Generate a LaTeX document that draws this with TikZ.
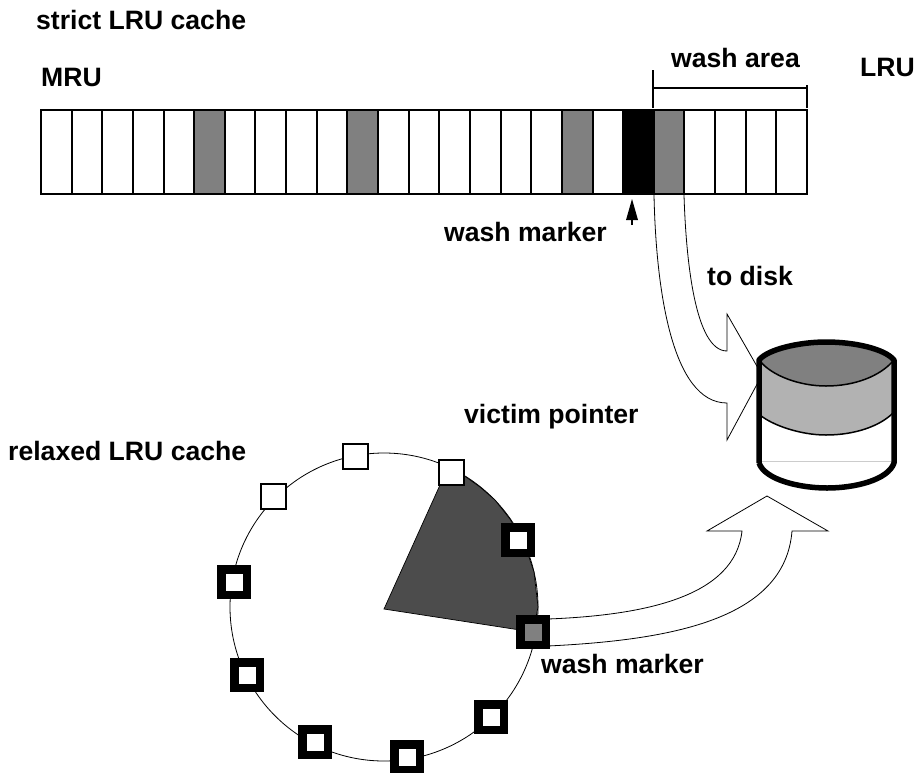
\documentclass[tikz,border=0pt]{standalone}
\usepackage{fontspec}
\setmainfont{Liberation Sans}
\definecolor{midgray}{gray}{0.5}
\definecolor{lightband}{gray}{0.7}
\definecolor{darkwedge}{gray}{0.3}
\tikzset{
  label/.style={font=\fontsize{26.6}{28}\selectfont\bfseries,inner sep=0pt,anchor=base west,text=black},
  cell/.style={draw=black,line width=2pt,fill=white},
  thin outline/.style={draw=black,line width=0.8pt,fill=white},
  lightsq/.style={draw=black,line width=2pt,fill=white,minimum size=25pt,inner sep=0pt},
  heavysq/.style={draw=black,line width=8.5pt,fill=white,minimum size=25.5pt,inner sep=0pt},
  diskline/.style={draw=black,line width=5.5pt,line join=round},
  diskinner/.style={draw=black,line width=1.5pt}
}
\begin{document}
\begin{tikzpicture}[x=1pt,y=-1pt]
\useasboundingbox (0,0) rectangle (924,772);
% cells
\foreach \i in {0,...,24}{
  \pgfmathsetmacro{\xa}{41+\i*30.64}
  \pgfmathsetmacro{\xb}{41+(\i+1)*30.64}
  \def\c{white}
  \ifnum\i=5 \def\c{midgray}\fi
  \ifnum\i=10 \def\c{midgray}\fi
  \ifnum\i=17 \def\c{midgray}\fi
  \ifnum\i=19 \def\c{black}\fi
  \ifnum\i=20 \def\c{midgray}\fi
  \draw[cell,fill=\c] (\xa,110) rectangle (\xb,194);
}
% wash area bracket
\draw[line width=2.5pt] (653,70) -- (653,108);
\draw[line width=2.5pt] (653,88) -- (807,88);
\draw[line width=2.5pt] (807,85) -- (807,108);
% wash marker arrow
\coordinate (mtip) at (632,199);
\coordinate (mbase) at (632,225);
\draw[line width=1.5pt] (mbase) -- (632,215);
\fill (mtip) -- (638,220) -- (626,220) -- cycle;
% arrow to disk
\path[thin outline] (654,195) .. controls (656,290) and (672,403) .. (727,403)
  -- (727,440) -- (762,375) -- (727,314) -- (727,351)
  .. controls (695,351) and (686,260) .. (684,195);
% disk
\fill[white] (759,360) -- (759,463) .. controls (765,480) and (800,488) .. (827,488)
  .. controls (855,488) and (888,480) .. (894,463) -- (894,360) -- cycle;
\fill[lightband] (760,361) -- (760,415) .. controls (772,425) and (800,435) .. (826,435)
  .. controls (855,435) and (880,426) .. (893,413) -- (893,361) -- cycle;
\draw[diskinner] (760,415) .. controls (772,425) and (800,435) .. (826,435)
  .. controls (855,435) and (880,426) .. (893,413);
\path[fill=midgray,diskinner] (760,361) .. controls (772,376) and (800,386) .. (826,386)
  .. controls (855,386) and (880,376) .. (893,361)
  .. controls (885,350) and (855,342) .. (826,342)
  .. controls (800,342) and (770,348) .. (760,361) -- cycle;
\draw[gray!40,line width=0.7pt] (760,461) -- (893,461);
\draw[diskline] (759,463) -- (759,360) .. controls (768,349) and (800,342) .. (826,342)
  .. controls (855,342) and (885,349) .. (894,360) -- (894,463)
  .. controls (888,480) and (855,488) .. (827,488)
  .. controls (800,488) and (765,480) .. (759,463);
% ring
\coordinate (hub) at (384,609);
\draw[line width=0.8pt] (384,607) circle (154);
% up arrow
\path[thin outline] (548,619) .. controls (650,615) and (735,595) .. (742,531)
  -- (707,531) -- (767,496) -- (828,531) -- (792,531)
  .. controls (785,620) and (670,640) .. (548,646);
% wedge
\path[fill=darkwedge,draw=black,line width=0.7pt] (hub) -- (440,485) -- (451,472)
  -- (466,477) -- (480,487) -- (495,500) -- (510,519) -- (525,545) -- (534,572)
  -- (538,607) -- (533,632) -- cycle;
% ring slots
\node[lightsq] (s1) at (355,456) {};
\node[lightsq] (s2) at (273,496) {};
\node[lightsq] (s3) at (451,472) {};
\node[heavysq] (s4) at (518,540) {};
\node[heavysq,fill=midgray] (s5) at (533,632) {};
\node[heavysq] (s6) at (491,717) {};
\node[heavysq] (s7) at (407,757) {};
\node[heavysq] (s8) at (315,742) {};
\node[heavysq] (s9) at (247,675) {};
\node[heavysq] (s10) at (234,582) {};
% labels
\node[label] (t1) at (36,29) {strict LRU cache};
\node[label] (t2) at (41,86) {MRU};
\node[label] (t3) at (671,67) {wash area};
\node[label] (t4) at (860,76) {LRU};
\node[label] (t5) at (444,241) {wash marker};
\node[label] (t6) at (707,285) {to disk};
\node[label] (t7) at (464,423) {victim pointer};
\node[label] (t8) at (8,460) {relaxed LRU cache};
\node[label] (t9) at (541,673) {wash marker};
\end{tikzpicture}
\end{document}
